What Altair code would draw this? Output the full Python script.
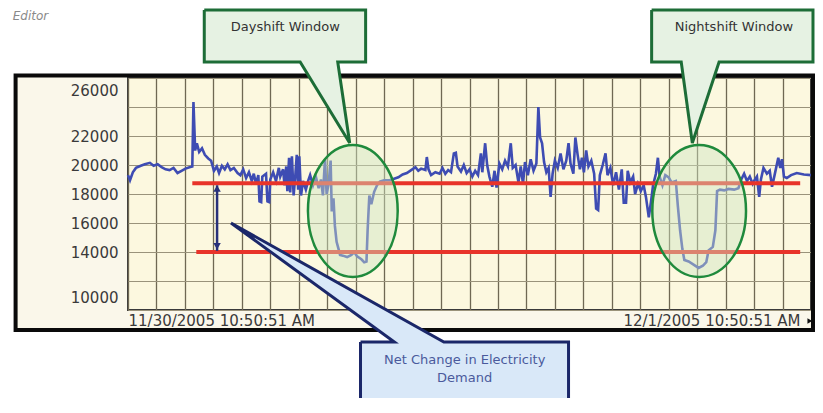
import altair as alt
import pandas as pd

# ------------------------------------------------------------------ data
START = "2005-11-30 10:50:51"
END = "2005-12-01 10:50:51"

# electricity demand trace: (hours after START, demand)
trace_points = [
    (0.00, 19300), (0.07, 18950), (0.17, 19500), (0.28, 19800), (0.45, 19950), (0.59, 20050),
    (0.77, 20150), (0.90, 19950), (1.04, 20050), (1.18, 19850), (1.32, 19700), (1.46, 19650),
    (1.60, 19800), (1.74, 19450), (1.88, 19600), (2.02, 19750), (2.16, 19850), (2.26, 19900),
    (2.30, 24350), (2.36, 21000), (2.42, 21500), (2.50, 20900), (2.60, 21150), (2.70, 20700),
    (2.82, 20450), (2.92, 20300), (3.02, 19600), (3.12, 19900), (3.20, 19450), (3.30, 19950),
    (3.40, 19700), (3.50, 20050), (3.60, 19650), (3.72, 19800), (3.85, 19450),
    (3.95, 19300), (4.05, 19700), (4.15, 19100), (4.25, 19500), (4.35, 18900), (4.42, 19400),
    (4.50, 18700), (4.58, 19300), (4.62, 17500), (4.68, 17450), (4.72, 19200), (4.85, 19400),
    (4.90, 17500), (4.96, 17450), (5.00, 19000), (5.10, 19500), (5.20, 18900), (5.30, 19800),
    (5.35, 19200), (5.45, 19700), (5.50, 18600), (5.56, 19900), (5.60, 18200), (5.66, 20500),
    (5.70, 18100), (5.76, 20600), (5.82, 17900), (5.88, 19300), (5.93, 20700), (5.98, 18300),
    (6.02, 20600), (6.08, 17900), (6.15, 18900), (6.25, 18300), (6.33, 18900),
    (6.40, 19300), (6.50, 18600), (6.60, 19200), (6.70, 18400), (6.78, 19000), (6.85, 17900),
    (6.92, 20350), (6.98, 18000), (7.05, 18700), (7.12, 20300), (7.16, 16800), (7.22, 17700),
    (7.27, 15800), (7.33, 14700), (7.40, 14200), (7.45, 13800), (7.55, 13750), (7.70, 13650),
    (7.85, 13800), (7.95, 14000), (8.05, 13700), (8.20, 13500), (8.30, 13300), (8.38, 13350),
    (8.42, 15500), (8.48, 17900), (8.55, 17300), (8.65, 18150), (8.75, 18600), (8.85, 18850),
    (9.00, 18950), (9.20, 18950), (9.35, 19050),
    (9.50, 19150), (9.65, 19350), (9.80, 19450), (9.95, 19650), (10.10, 19850), (10.20, 19600),
    (10.30, 19750), (10.45, 19650), (10.50, 20550), (10.56, 19700), (10.65, 19300), (10.80, 19500),
    (10.95, 19400), (11.05, 19800), (11.15, 19400), (11.25, 19650), (11.35, 19500), (11.45, 20800),
    (11.52, 20850), (11.58, 19900), (11.70, 19550), (11.80, 20000), (11.90, 19450), (12.00, 19700),
    (12.10, 19200), (12.20, 19600), (12.30, 19300), (12.40, 20800), (12.45, 19500), (12.55, 21500),
    (12.62, 20000), (12.70, 19200), (12.80, 18500), (12.88, 19600), (12.95, 18450), (13.05, 20100),
    (13.15, 19700), (13.25, 20300), (13.35, 19900), (13.45, 21500), (13.52, 19800), (13.62, 20000),
    (13.72, 18800), (13.80, 19900), (13.88, 18700), (13.95, 20200), (14.05, 19300), (14.15, 20400),
    (14.25, 19600), (14.35, 20100), (14.42, 24000), (14.48, 21900), (14.55, 21500), (14.62, 20200),
    (14.70, 19500), (14.78, 19800), (14.85, 17800), (14.92, 19400), (15.00, 20300),
    (15.10, 19800), (15.20, 20800), (15.30, 19700), (15.40, 20300), (15.48, 21500), (15.55, 20100),
    (15.65, 19400), (15.72, 21900), (15.80, 20700), (15.88, 19700), (15.95, 20500), (16.02, 19500),
    (16.10, 21000), (16.18, 19900), (16.28, 20300), (16.38, 19400), (16.45, 17000), (16.52, 16900),
    (16.58, 19300), (16.68, 20000), (16.78, 20800), (16.85, 19300), (16.95, 19800), (17.05, 18600),
    (17.15, 19500), (17.25, 18300), (17.35, 19700), (17.42, 17400), (17.50, 17400), (17.56, 19600),
    (17.65, 18800), (17.75, 19200), (17.82, 18000), (17.92, 18700), (18.02, 18200), (18.12, 18600),
    (18.20, 17800), (18.30, 16400), (18.38, 17500), (18.45, 18600),
    (18.55, 19400), (18.62, 20500), (18.68, 19200), (18.78, 18600), (18.88, 19300), (19.00, 19150),
    (19.10, 18800), (19.25, 18900), (19.32, 17200), (19.40, 15500), (19.48, 14200), (19.55, 13450),
    (19.70, 13350), (19.90, 13100), (20.05, 12900), (20.20, 13050), (20.32, 13300), (20.40, 14100),
    (20.55, 14350), (20.64, 15500), (20.70, 18200), (20.80, 18300), (20.95, 18250), (21.10, 18350),
    (21.30, 18300), (21.45, 18400), (21.55, 19000), (21.65, 19400), (21.75, 18900), (21.85, 19200),
    (21.95, 18700),
    (22.00, 18900), (22.10, 19200), (22.18, 17800), (22.24, 19000), (22.33, 19800), (22.45, 19400),
    (22.55, 19600), (22.63, 18500), (22.72, 19300), (22.85, 20500), (22.92, 19800), (22.98, 20400),
    (23.05, 19200), (23.15, 19100), (23.30, 19300), (23.50, 19450), (23.75, 19350), (24.00, 19300),
]

# red reference levels
level_values = [18750, 14000]
level_start_h = [2.26, 2.40]
level_end_h = [23.62, 23.62]

# axes
y_grid_values = [10000, 12000, 14000, 16000, 18000, 20000, 22000, 24000, 26000]
y_label_values = [26000, 22000, 20000, 18000, 16000, 14000, 10000]
x_label_times = [START, END]
x_grid_hours = list(range(0, 25))

# net-change double arrow
arrow_h = 3.13
arrow_from_to = [18600, 14080]
arrow_heads = [("triangle-up", 18380), ("triangle-down", 14400)]

# shift windows (ellipse centres)
window_center_h = [7.90, 20.07]
window_center_v = [16830, 16830]
window_aspect = [0.68, 0.71]

# callouts (polygon vertices: hours, value)
day_callout_h = [2.68, 8.35, 8.35, 7.37, 7.79, 6.05, 2.68, 2.68]
night_callout_h = [18.40, 24.07, 24.07, 20.77, 19.83, 19.44, 18.40, 18.40]
top_callout_v = [30690, 30690, 27100, 27100, 21520, 27100, 27100, 30690]
net_callout_h = [8.17, 9.36, 3.62, 11.10, 15.48, 15.48, 8.17, 8.17]
net_callout_v = [7790, 7790, 16000, 7790, 7790, 2400, 2400, 7790]

callout_texts = ["Dayshift Window", "Nightshift Window"]
callout_text_h = [5.53, 21.29]
callout_text_v = [29520, 29520]
net_texts = ["Net Change in Electricity", "Demand"]
net_text_h = [11.83, 11.83]
net_text_v = [6550, 5310]

# frame around the chart (hours, values)
frame_h = [-3.95, 24.07]
frame_v = [8620, 26170]

editor_text = "Editor"
editor_pos = (-4.05, 30250)
scroll_pos = (23.96, 9240)

# ------------------------------------------------------------------ helpers
t0 = pd.Timestamp(START)


def ts(h):
    return (t0 + pd.Timedelta(hours=h)).strftime("%Y-%m-%dT%H:%M:%S")


def dt(p):
    p = pd.Timestamp(p)
    return alt.DateTime(year=p.year, month=p.month, date=p.day,
                        hours=p.hour, minutes=p.minute, seconds=p.second)


def js_time(s):
    p = pd.Timestamp(s)
    return f"time(datetime({p.year}, {p.month - 1}, {p.day}, {p.hour}, {p.minute}, {p.second}))"


FONT = "DejaVu Sans"

x_label_test = " || ".join(f"time(datum.value) == {js_time(s)}" for s in x_label_times)
x_axis = alt.Axis(
    values=[dt(t0 + pd.Timedelta(hours=k)) for k in x_grid_hours],
    labelExpr=f"({x_label_test}) ? timeFormat(datum.value, '%-m/%-d/%Y %-I:%M:%S %p') : ''",
    labelFlush=True, labelOverlap=False, labelLimit=500,
    labelOffset={"condition": {"test": f"time(datum.value) == {js_time(END)}", "value": -11}, "value": 0},
    labelPadding=3, labelFontSize=15, labelFont=FONT, labelColor="#3a3a3a",
    ticks=False, tickSize=0, domain=False,
    grid=True, gridColor="#6f6853", gridWidth=1.3, gridOpacity=1,
)
y_axis = alt.Axis(
    values=y_grid_values,
    labelExpr=f"indexof({y_label_values}, datum.value) >= 0 ? format(datum.value, 'd') : ''",
    labelFlush=True, labelFlushOffset=-5, labelOverlap=False,
    labelPadding=10, labelFontSize=15, labelFont=FONT, labelColor="#3a3a3a",
    ticks=False, tickSize=0, domain=False,
    grid=True, gridColor="#9a937b", gridWidth=1.2, gridOpacity=1,
)
x_scale = alt.Scale(domain=[dt(START), dt(END)])
y_scale = alt.Scale(domain=[10000, 26000], nice=False, zero=False)


def X(f):
    return alt.X(f"{f}:T", scale=x_scale, axis=x_axis, title=None)


def Y(f):
    return alt.Y(f"{f}:Q", scale=y_scale, axis=y_axis, title=None)


# ------------------------------------------------------------------ frames
outer = pd.DataFrame({
    "t1": [ts(-6), ts(-6), ts(-6), ts(frame_h[1])],
    "t2": [ts(26), ts(26), ts(frame_h[0]), ts(26)],
    "v1": [frame_v[1], -2000, -2000, -2000],
    "v2": [40000, frame_v[0], 40000, 40000],
})
white = alt.Chart(outer).mark_rect(color="white", strokeWidth=0).encode(
    x=X("t1"), x2="t2", y=Y("v1"), y2="v2")

frame_df = pd.DataFrame({"t1": [ts(frame_h[0])], "t2": [ts(frame_h[1])],
                         "v1": [frame_v[0]], "v2": [frame_v[1]]})
frame = alt.Chart(frame_df).mark_rect(fill="transparent", stroke="#0a0a0a", strokeWidth=4).encode(
    x=X("t1"), x2="t2", y=Y("v1"), y2="v2")

# ------------------------------------------------------------------ data marks
trace_df = pd.DataFrame({"t": [ts(h) for h, _ in trace_points],
                         "demand": [v for _, v in trace_points]})
line = alt.Chart(trace_df).mark_line(color="#3e4cb3", strokeWidth=2.6).encode(
    x=X("t"), y=Y("demand"))

levels_df = pd.DataFrame({"t1": [ts(h) for h in level_start_h],
                          "t2": [ts(h) for h in level_end_h],
                          "v": level_values})
levels = alt.Chart(levels_df).mark_rule(color="#e8342a", strokeWidth=4).encode(
    x=X("t1"), x2="t2", y=Y("v"))

arrow_df = pd.DataFrame({"t": [ts(arrow_h)], "v1": [arrow_from_to[0]], "v2": [arrow_from_to[1]]})
arrow = alt.Chart(arrow_df).mark_rule(color="#27307a", strokeWidth=2.5).encode(
    x=X("t"), y=Y("v1"), y2="v2")
heads = [
    alt.Chart(pd.DataFrame({"t": [ts(arrow_h)], "v": [v]})).mark_point(
        shape=shp, filled=True, size=55, color="#27307a", opacity=1).encode(x=X("t"), y=Y("v"))
    for shp, v in arrow_heads
]


def ellipse_path(a):
    k = 0.5523
    return (f"M {a} 0 C {a} {k} {a * k:.4f} 1 0 1 C {-a * k:.4f} 1 {-a} {k} {-a} 0 "
            f"C {-a} {-k} {-a * k:.4f} -1 0 -1 C {a * k:.4f} -1 {a} {-k} {a} 0 Z")


ellipses = [
    alt.Chart(pd.DataFrame({"t": [ts(h)], "v": [v]})).mark_point(
        shape=ellipse_path(a), size=17424, filled=True, fill="#cfe5c4", fillOpacity=0.45,
        stroke="#1f8a3c", strokeWidth=2.5, opacity=1).encode(x=X("t"), y=Y("v"))
    for h, v, a in zip(window_center_h, window_center_v, window_aspect)
]

# ------------------------------------------------------------------ callouts
green_df = pd.DataFrame({
    "t": [ts(h) for h in day_callout_h] + [ts(h) for h in night_callout_h],
    "v": top_callout_v + top_callout_v,
    "i": list(range(len(day_callout_h))) * 2,
    "id": ["day"] * len(day_callout_h) + ["night"] * len(night_callout_h),
})
green_callouts = alt.Chart(green_df).mark_line(
    fill="#e6f2e3", stroke="#1d6d37", strokeWidth=3, strokeJoin="miter").encode(
    x=X("t"), y=Y("v"), order="i:Q", detail="id:N")

net_df = pd.DataFrame({"t": [ts(h) for h in net_callout_h], "v": net_callout_v,
                       "i": list(range(len(net_callout_h)))})
net_callout = alt.Chart(net_df).mark_line(
    fill="#d9e8f8", stroke="#1b2769", strokeWidth=3, strokeJoin="miter").encode(
    x=X("t"), y=Y("v"), order="i:Q")

callout_text = alt.Chart(pd.DataFrame({
    "t": [ts(h) for h in callout_text_h], "v": callout_text_v, "label": callout_texts})).mark_text(
    font=FONT, fontSize=13, color="#333333", align="center", baseline="middle").encode(
    x=X("t"), y=Y("v"), text="label:N")

net_text = alt.Chart(pd.DataFrame({
    "t": [ts(h) for h in net_text_h], "v": net_text_v, "label": net_texts})).mark_text(
    font=FONT, fontSize=13, color="#4a5a9c", align="center", baseline="middle").encode(
    x=X("t"), y=Y("v"), text="label:N")

scroll_arrow = alt.Chart(pd.DataFrame({"t": [ts(scroll_pos[0])], "v": [scroll_pos[1]]})).mark_point(
    shape="triangle-right", filled=True, size=32, color="#111111", opacity=1).encode(
    x=X("t"), y=Y("v"))

editor = alt.Chart(pd.DataFrame({"t": [ts(editor_pos[0])], "v": [editor_pos[1]],
                                 "label": [editor_text]})).mark_text(
    font=FONT, fontSize=12, fontStyle="italic", color="#8a8a8a", align="left",
    baseline="middle").encode(x=X("t"), y=Y("v"), text="label:N")

chart = alt.layer(
    white, line, levels, arrow, *heads, *ellipses, frame,
    green_callouts, net_callout, callout_text, net_text, scroll_arrow, editor,
).properties(
    width=683, height=232,
    padding={"left": 120, "top": 70, "right": 4, "bottom": 88},
    autosize=alt.AutoSizeParams(type="none"),
    background="#FAF7EA",
).configure_view(
    fill="#FCF8DF", stroke="#3a3a3a", strokeWidth=2,
)

chart.save("out.html", embed_options={"renderer": "svg", "actions": False})
